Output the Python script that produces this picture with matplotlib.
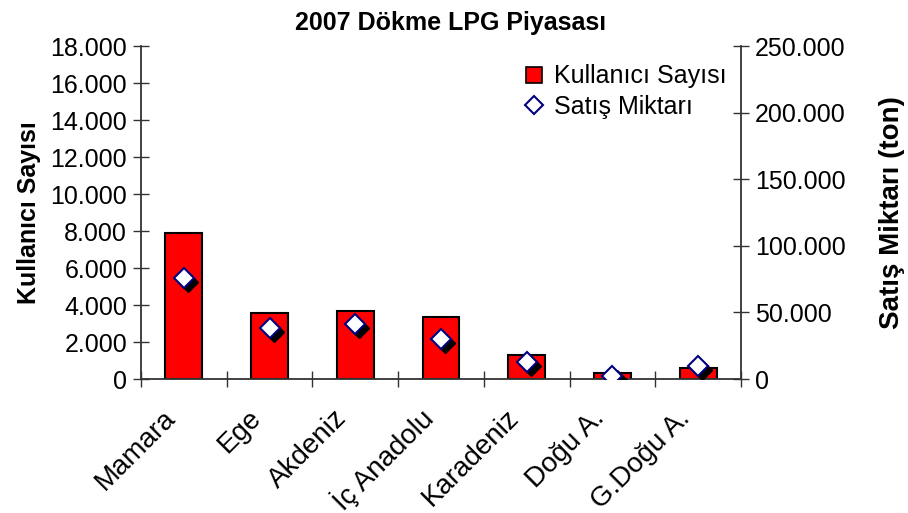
import matplotlib.pyplot as plt
import matplotlib.transforms as mtransforms
from matplotlib.lines import Line2D
from matplotlib.ticker import FuncFormatter, FixedLocator, NullFormatter
import numpy as np

plt.rcParams['font.family'] = ['Liberation Sans', 'DejaVu Sans']

regions = ['Mamara', 'Ege', 'Akdeniz', 'İç Anadolu', 'Karadeniz', 'Doğu A.', 'G.Doğu A.']
users = [7900, 3550, 3650, 3350, 1300, 300, 620]
sales = [76000, 38500, 41500, 30000, 13000, 2300, 10000]


def dotted(v, pos):
    # turkish style thousands separator
    return f'{int(v):,}'.replace(',', '.')


fig = plt.figure(figsize=(9.08, 5.13), dpi=100)
ax = fig.add_axes([0.1553, 0.2612, 0.6608, 0.6491])
ax2 = ax.twinx()

x = np.arange(len(regions))
ax.bar(x, users, width=0.43, color='#ff0000', edgecolor='black', linewidth=1.5, zorder=2)

# shadow under the diamonds
shadow = mtransforms.offset_copy(ax2.transData, fig=fig, x=3, y=-3, units='points')
ax2.plot(x, sales, 'D', ms=10, color='black', mec='black', transform=shadow, zorder=3)
ax2.plot(x, sales, 'D', ms=10, mfc='white', mec='#000080', mew=1.5, zorder=4)

ax.set_xlim(-0.5, 6.5)
ax.set_ylim(0, 18000)
ax2.set_ylim(0, 250000)
ax.set_yticks(np.arange(0, 18001, 2000))
ax2.set_yticks(np.arange(0, 250001, 50000))
ax.yaxis.set_major_formatter(FuncFormatter(dotted))
ax2.yaxis.set_major_formatter(FuncFormatter(dotted))

# category labels sit a bit left of the centre, like excel draws them
ax.set_xticks([])
ax.xaxis.set_minor_locator(FixedLocator(np.arange(-0.5, 7, 1)))
ax.xaxis.set_minor_formatter(NullFormatter())
for i, name in zip(x, regions):
    ax.annotate(name, xy=(i, 0), xycoords=('data', 'axes fraction'),
                xytext=(-12, -35), textcoords='offset pixels', fontsize=20,
                rotation=45, ha='right', va='center', rotation_mode='anchor')

ax.tick_params(axis='x', which='minor', direction='inout', length=12, width=1, color='#333333')
ax.tick_params(axis='y', direction='inout', length=12, width=1, color='#333333', labelsize=18, pad=4)
ax2.tick_params(axis='y', direction='inout', length=12, width=1, color='#333333', labelsize=18, pad=4)

for a in (ax, ax2):
    a.spines['top'].set_visible(False)
    for s in ('left', 'right', 'bottom'):
        a.spines[s].set_color('#333333')
        a.spines[s].set_linewidth(1.3)
ax.spines['right'].set_visible(False)
ax2.spines['left'].set_visible(False)
ax2.spines['bottom'].set_visible(False)

ax.set_ylabel('Kullanıcı Sayısı', fontsize=18, fontweight='bold', labelpad=7)
ax2.set_ylabel('Satış Miktarı (ton)', fontsize=20, fontweight='bold', labelpad=24)
fig.suptitle('2007 Dökme LPG Piyasası', x=0.496, y=0.978, fontsize=18, fontweight='bold')

handles = [
    Line2D([], [], marker='s', ls='', ms=11, mfc='#ff0000', mec='black', mew=1.2),
    Line2D([], [], marker='D', ls='', ms=9, mfc='white', mec='#000080', mew=1.5),
]
ax2.legend(handles, ['Kullanıcı Sayısı', 'Satış Miktarı'], loc='upper right',
           bbox_to_anchor=(0.993, 0.975), frameon=False, fontsize=18,
           handlelength=0.6, handletextpad=0.5, labelspacing=0.25, borderaxespad=0)

fig.savefig('out.png', dpi=100)
